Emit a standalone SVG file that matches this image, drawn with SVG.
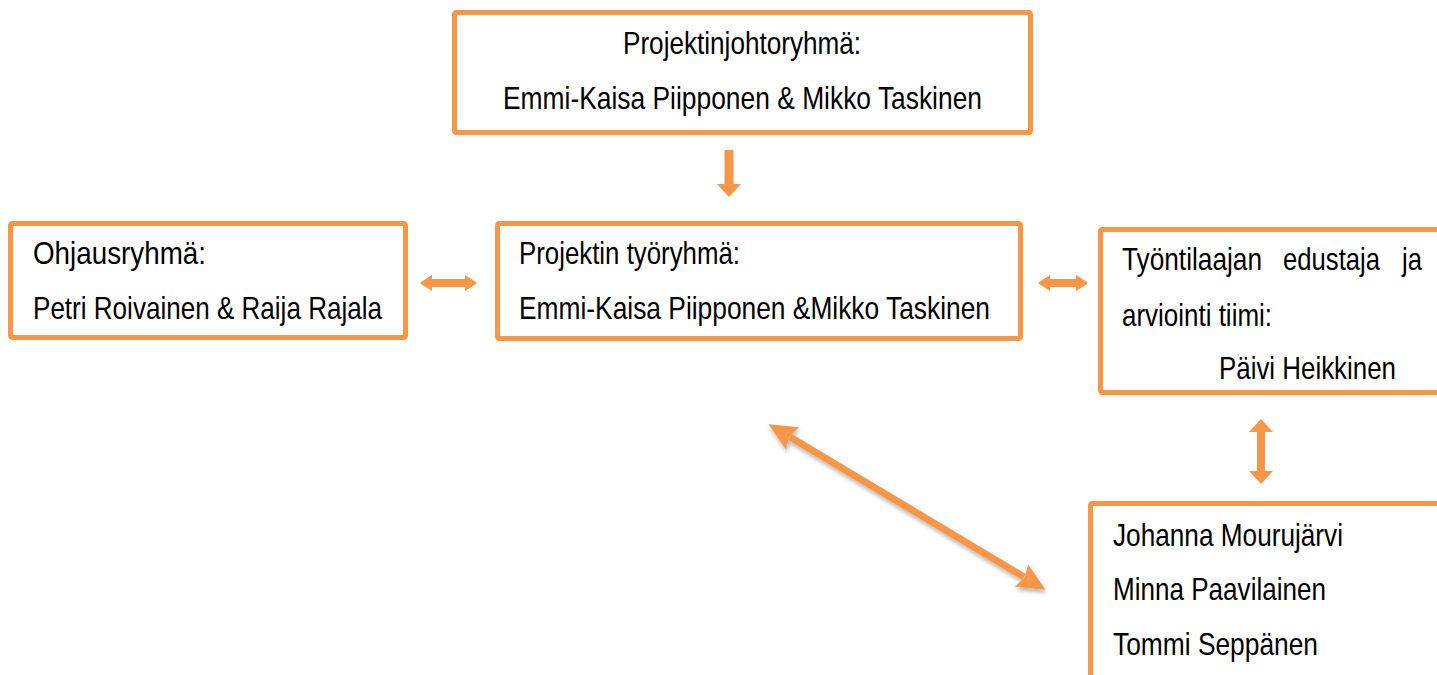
<svg xmlns="http://www.w3.org/2000/svg" width="1437" height="675" viewBox="0 0 1437 675">
<style>
.box{fill:#fff;stroke:#F79646;stroke-width:5}
.t{font-family:"Liberation Sans",Arial,sans-serif;font-size:32px;fill:#000}
.c{stroke:#F79646;fill:none}
</style>
<defs>
<marker id="hs" markerUnits="userSpaceOnUse" markerWidth="14" markerHeight="18" refX="2" refY="9" orient="auto-start-reverse" viewBox="0 0 14 18">
<path d="M0,1 L11,8 Q12,9 11,10 L0,17 Z" fill="#F79646"/>
</marker>
<marker id="hm" markerUnits="userSpaceOnUse" markerWidth="14" markerHeight="24" refX="2" refY="12" orient="auto-start-reverse" viewBox="0 0 14 24">
<path d="M0,0 L13,12 L0,24 Z" fill="#F79646"/>
</marker>
<marker id="hl" markerUnits="userSpaceOnUse" markerWidth="28" markerHeight="26" refX="3" refY="13" orient="auto-start-reverse" viewBox="0 0 28 26">
<path d="M0,0 L28,13 L0,26 L4,13 Z" fill="#F79646"/>
</marker>
<filter id="sh" x="-10%" y="-10%" width="120%" height="130%">
<feDropShadow dx="1" dy="3" stdDeviation="2" flood-color="#000" flood-opacity="0.3"/>
</filter>
</defs>

<g id="connectors">
<line class="c" x1="729" y1="150" x2="729" y2="186" stroke-width="9" marker-end="url(#hm)"/>
<line class="c" x1="430" y1="283" x2="467" y2="283" stroke-width="8" marker-start="url(#hs)" marker-end="url(#hs)"/>
<line class="c" x1="1048" y1="283" x2="1078" y2="283" stroke-width="8" marker-start="url(#hs)" marker-end="url(#hs)"/>
<line class="c" x1="1261" y1="430" x2="1261" y2="473" stroke-width="8" marker-start="url(#hm)" marker-end="url(#hm)"/>
<line class="c" x1="790" y1="437" x2="1024" y2="577" stroke-width="7" marker-start="url(#hl)" marker-end="url(#hl)" filter="url(#sh)"/>
</g>

<g id="node-johtoryhma">
<rect class="box" x="454.5" y="12.5" width="576" height="120" rx="2"/>
<text class="t" x="623" y="54" textLength="238" lengthAdjust="spacingAndGlyphs">Projektinjohtoryhmä:</text>
<text class="t" x="503" y="109" textLength="479" lengthAdjust="spacingAndGlyphs">Emmi-Kaisa Piipponen &amp; Mikko Taskinen</text>
</g>

<g id="node-ohjausryhma">
<rect class="box" x="10.5" y="223.5" width="395" height="114" rx="2"/>
<text class="t" x="33" y="264" textLength="173" lengthAdjust="spacingAndGlyphs">Ohjausryhmä:</text>
<text class="t" x="33" y="319" textLength="349" lengthAdjust="spacingAndGlyphs">Petri Roivainen &amp; Raija Rajala</text>
</g>

<g id="node-tyoryhma">
<rect class="box" x="497.5" y="223.5" width="523" height="115" rx="2"/>
<text class="t" x="519" y="264" textLength="221" lengthAdjust="spacingAndGlyphs">Projektin työryhmä:</text>
<text class="t" x="519" y="319" textLength="471" lengthAdjust="spacingAndGlyphs">Emmi-Kaisa Piipponen &amp;Mikko Taskinen</text>
</g>

<g id="node-tyontilaaja">
<rect class="box" x="1100.5" y="229.5" width="345" height="163" rx="2"/>
<text class="t" x="1122" y="270" textLength="140" lengthAdjust="spacingAndGlyphs">Työntilaajan</text>
<text class="t" x="1283" y="270" textLength="97" lengthAdjust="spacingAndGlyphs">edustaja</text>
<text class="t" x="1402" y="270" textLength="20" lengthAdjust="spacingAndGlyphs">ja</text>
<text class="t" x="1122" y="326" textLength="150" lengthAdjust="spacingAndGlyphs">arviointi tiimi:</text>
<text class="t" x="1219" y="379" textLength="177" lengthAdjust="spacingAndGlyphs">Päivi Heikkinen</text>
</g>

<g id="node-arviointitiimi">
<rect class="box" x="1090.5" y="503.5" width="355" height="190" rx="2"/>
<text class="t" x="1113" y="546" textLength="230" lengthAdjust="spacingAndGlyphs">Johanna Mourujärvi</text>
<text class="t" x="1113" y="600" textLength="213" lengthAdjust="spacingAndGlyphs">Minna Paavilainen</text>
<text class="t" x="1113" y="655" textLength="205" lengthAdjust="spacingAndGlyphs">Tommi Seppänen</text>
</g>
</svg>
